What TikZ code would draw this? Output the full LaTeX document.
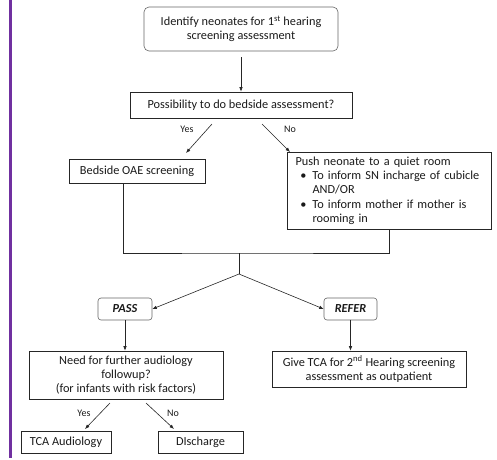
\documentclass[tikz,border=0pt]{standalone}
\usepackage{fontspec}
\setmainfont{Carlito}
\usetikzlibrary{arrows.meta}
\definecolor{txt}{HTML}{1A1A1A}
\definecolor{purp}{HTML}{7030A0}
\tikzset{
  box/.style={draw=black!85, line width=0.6pt, inner sep=0pt, align=center, text=txt, font=\fontsize{12.3}{14}\selectfont},
  rbox/.style={box, rounded corners=5pt, draw=black!60},
  arr/.style={draw=black!85, line width=0.6pt, -{Latex[length=4.5pt,width=3.5pt]}},
  ln/.style={draw=black!85, line width=0.6pt},
  lab/.style={text=txt, font=\fontsize{10}{12}\selectfont, inner sep=0pt}
}
\begin{document}
\begin{tikzpicture}[x=1pt,y=-1pt]
\useasboundingbox (0,0) rectangle (497,459);
\fill[purp] (9,0) rectangle (12,458);
\node[rbox, minimum width=194pt, minimum height=44pt] (ident) at (241,29) {Identify neonates for 1\textsuperscript{st} hearing\\screening assessment};
\node[box, minimum width=222pt, minimum height=26pt] (poss) at (241,105) {Possibility to do bedside assessment?};
\node[box, minimum width=136pt, minimum height=24pt] (bed) at (137,171) {Bedside OAE screening};
\node[box, minimum width=204pt, minimum height=77pt, align=left, text width=188pt, font=\fontsize{12.3}{14.3}\selectfont] (push) at (389.5,190.5) {Push neonate to a quiet room\\
\hspace*{17pt}\llap{\textbullet\hspace{6pt}}To inform SN incharge of cubicle\\
\hspace*{17pt}AND/OR\\
\hspace*{17pt}\llap{\textbullet\hspace{6pt}}To inform mother if mother is\\
\hspace*{17pt}rooming in};
\node[rbox, rounded corners=3pt, minimum width=54pt, minimum height=22pt, font=\fontsize{12.3}{14}\selectfont\bfseries\itshape] (pass) at (125,309) {PASS};
\node[rbox, rounded corners=3pt, minimum width=53pt, minimum height=22pt, font=\fontsize{12.3}{14}\selectfont\bfseries\itshape] (refer) at (350.5,309) {REFER};
\node[box, minimum width=194pt, minimum height=48pt] (need) at (126,375) {Need for further audiology\\followup?\\(for infants with risk factors)};
\node[box, minimum width=194pt, minimum height=36pt] (give) at (369,369) {Give TCA for 2\textsuperscript{nd} Hearing screening\\assessment as outpatient};
\node[box, minimum width=90pt, minimum height=22pt] (tca) at (66,442) {TCA Audiology};
\node[box, minimum width=85pt, minimum height=22pt] (dis) at (200.5,442) {DIscharge};
% connectors
\draw[arr] (ident.south) ++(0,6) coordinate (i1) (i1) -- (poss.north);
\coordinate (y1) at (212,124); \coordinate (y2) at (186,153);
\coordinate (n1) at (262,124); \coordinate (n2) at (290,152);
\draw[arr] (y1) -- (y2);
\draw[arr] (n1) -- (n2);
\node[lab] (yes1) at (187,129) {Yes};
\node[lab] (no1) at (290,129) {No};
\coordinate (b1) at (123,183);
\coordinate (j) at (239,253);
\coordinate (jb) at (239,274);
\draw[ln] (b1) |- (j) -| (push.south);
\draw[ln] (j) -- (jb);
\draw[arr] (jb) -- (pass.east);
\draw[arr] (jb) -- (refer.west);
\draw[arr] (pass.south) -- (pass.south |- need.north);
\draw[arr] (refer.south |- give.north) ++(0,-31) -- (refer.south |- give.north);
\coordinate (y3) at (110,403); \coordinate (y4) at (85,429);
\coordinate (n3) at (146,403); \coordinate (n4) at (174,429);
\draw[arr] (y3) -- (y4);
\draw[arr] (n3) -- (n4);
\node[lab] (yes2) at (84,413) {Yes};
\node[lab] (no2) at (173,413) {No};
\end{tikzpicture}
\end{document}
